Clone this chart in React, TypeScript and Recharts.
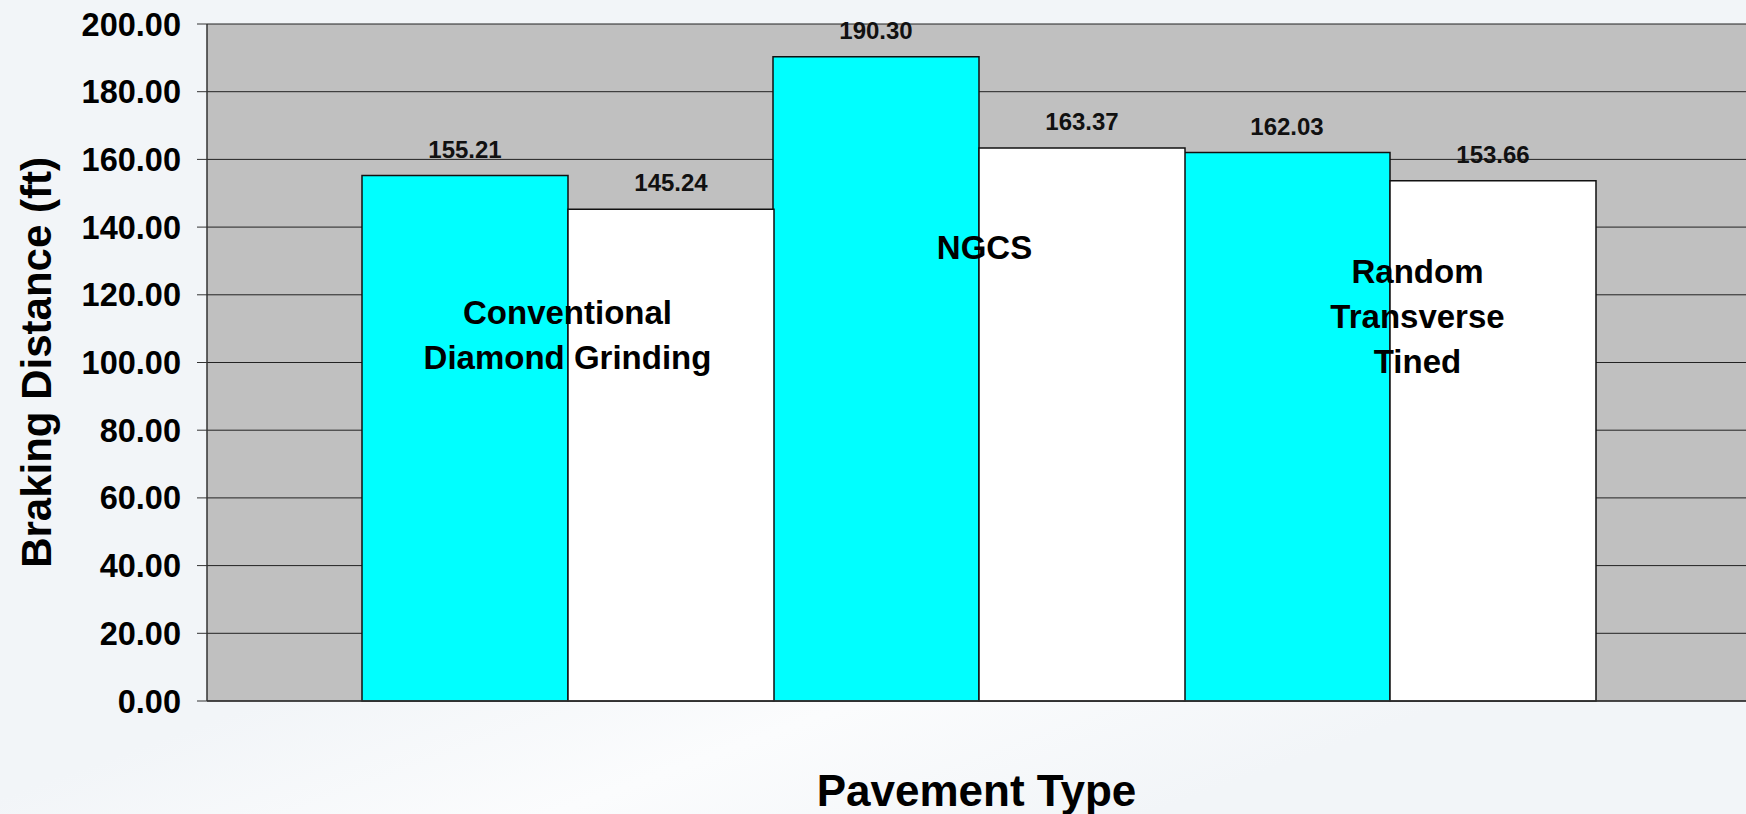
import { ComposedChart, Bar, Line, XAxis, YAxis, CartesianGrid, LabelList } from 'recharts';

const categories = ['Conventional\nDiamond Grinding', 'NGCS', 'Random\nTransverse\nTined'];
const firstTexture = [155.21, 190.3, 162.03];
const secondTexture = [145.24, 163.37, 153.66];
// height (in ft units) where each category caption sits inside the plot
const captionLevel = [115, 134, 127];
const yTicks = [0, 20, 40, 60, 80, 100, 120, 140, 160, 180, 200];

const data = categories.map((name, i) => ({
  name,
  a: firstTexture[i],
  b: secondTexture[i],
  caption: captionLevel[i],
}));

const font = '"Liberation Sans", Arial, sans-serif';

const fmt = (v: any) => Number(v).toFixed(2);

// captions are not quite centred on their category in the original
const captionNudge = [0, 6, 28];

function Caption(props: any) {
  const { x, y, value, index } = props;
  const lines = String(value).split('\n');
  const cx = x + (captionNudge[index] || 0);
  return (
    <text x={cx} y={y} textAnchor="middle" fontFamily={font} fontWeight="bold" fontSize={33} fill="#000">
      {lines.map((line, i) => (
        <tspan key={i} x={cx} dy={i === 0 ? 12 : 45}>
          {line}
        </tspan>
      ))}
    </text>
  );
}

export default function App() {
  return (
    <div
      style={{
        position: 'absolute',
        left: 0,
        top: 0,
        width: 1746,
        height: 814,
        overflow: 'hidden',
        background: 'linear-gradient(160deg, #f2f5f8 0%, #f2f5f8 55%, #fbfcfd 70%, #f2f5f8 85%)',
        fontFamily: font,
      }}
    >
      <ComposedChart
        width={1746}
        height={814}
        data={data}
        margin={{ top: 24, right: 0, left: 0, bottom: 0 }}
        barCategoryGap={0}
        barGap={0}
      >
        <CartesianGrid vertical={false} fill="#c0c0c0" fillOpacity={1} stroke="#222" strokeWidth={1} />
        <XAxis
          dataKey="name"
          tick={false}
          tickLine={false}
          axisLine={{ stroke: '#333', strokeWidth: 1.5 }}
          padding={{ left: 155, right: 151 }}
          height={113}
          label={{
            value: 'Pavement Type',
            position: 'insideBottom',
            offset: 8,
            style: { fontFamily: font, fontWeight: 'bold', fontSize: 44, fill: '#000' },
          }}
        />
        <YAxis
          width={207}
          domain={[0, 200]}
          ticks={yTicks}
          tickFormatter={fmt}
          tickSize={10}
          tickMargin={16}
          axisLine={{ stroke: '#333', strokeWidth: 1.5 }}
          tickLine={{ stroke: '#333' }}
          tick={{ fontFamily: font, fontWeight: 'bold', fontSize: 32.5, fill: '#000' }}
          label={{
            value: 'Braking Distance (ft)',
            angle: -90,
            position: 'insideLeft',
            offset: 36,
            style: { fontFamily: font, fontWeight: 'bold', fontSize: 42, fill: '#000', textAnchor: 'middle' },
          }}
        />
        <Bar dataKey="a" fill="#00ffff" stroke="#111" strokeWidth={1.5} isAnimationActive={false}>
          <LabelList
            dataKey="a"
            position="top"
            offset={18}
            formatter={fmt}
            style={{ fontFamily: font, fontWeight: 'bold', fontSize: 24, fill: '#111' }}
          />
        </Bar>
        <Bar dataKey="b" fill="#ffffff" stroke="#111" strokeWidth={1.5} isAnimationActive={false}>
          <LabelList
            dataKey="b"
            position="top"
            offset={18}
            formatter={fmt}
            style={{ fontFamily: font, fontWeight: 'bold', fontSize: 24, fill: '#111' }}
          />
        </Bar>
        <Line
          dataKey="caption"
          stroke="none"
          dot={false}
          activeDot={false}
          legendType="none"
          isAnimationActive={false}
        >
          <LabelList dataKey="name" content={<Caption />} />
        </Line>
      </ComposedChart>
    </div>
  );
}
